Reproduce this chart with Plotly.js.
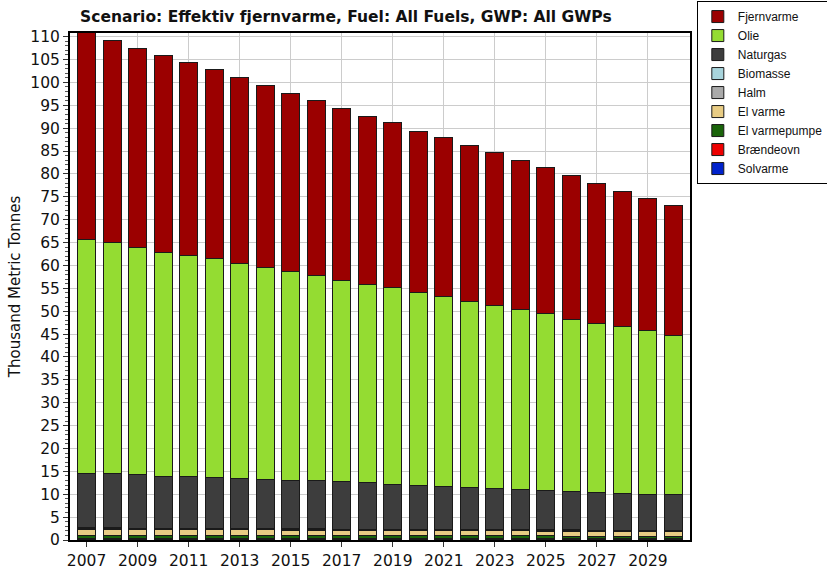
<!DOCTYPE html>
<html><head><meta charset="utf-8">
<script src="https://cdn.plot.ly/plotly-3.0.1.min.js"></script>
<style>html,body{margin:0;padding:0;background:#fff}#c{width:827px;height:569px}</style>
</head><body><div id="c"></div>
<script>
const years = [2007,2008,2009,2010,2011,2012,2013,2014,2015,2016,2017,2018,2019,2020,2021,2022,2023,2024,2025,2026,2027,2028,2029,2030];
// Values in thousand metric tonnes
const solvarme     = [0.2,0.2,0.2,0.2,0.2,0.2,0.2,0.2,0.2,0.2,0.2,0.2,0.2,0.2,0.2,0.2,0.2,0.2,0.2,0.2,0.2,0.2,0.2,0.2];
const braendeovn   = [0.05,0.05,0.05,0.05,0.05,0.05,0.05,0.05,0.05,0.05,0.05,0.05,0.05,0.05,0.05,0.05,0.05,0.05,0.05,0.05,0.05,0.05,0.05,0.05];
const elvarmepumpe = [0.8,0.8,0.8,0.78,0.78,0.76,0.75,0.74,0.73,0.72,0.71,0.7,0.69,0.68,0.67,0.66,0.65,0.64,0.63,0.62,0.61,0.6,0.6,0.6];
const halm         = [0.1,0.1,0.1,0.1,0.1,0.1,0.1,0.1,0.1,0.1,0.1,0.1,0.1,0.1,0.1,0.1,0.1,0.1,0.1,0.1,0.1,0.1,0.1,0.1];
const elvarme      = [1.35,1.34,1.32,1.3,1.28,1.26,1.24,1.22,1.2,1.19,1.18,1.16,1.15,1.14,1.12,1.11,1.1,1.09,1.08,1.07,1.06,1.05,1.04,1.03];
const biomasse     = [0.15,0.15,0.15,0.15,0.15,0.15,0.15,0.15,0.15,0.15,0.15,0.15,0.15,0.15,0.15,0.15,0.15,0.15,0.15,0.15,0.15,0.15,0.15,0.15];
const naturgas     = [11.9,11.8,11.6,11.4,11.4,11.2,11.0,10.8,10.6,10.5,10.3,10.1,9.8,9.6,9.3,9.1,9.1,8.9,8.6,8.4,8.2,8.0,7.8,7.8];
const olie         = [51.1,50.5,49.7,48.9,48.3,47.7,46.9,46.2,45.7,44.9,44.1,43.4,43.0,42.2,41.6,40.8,39.9,39.2,38.6,37.7,37.0,36.5,35.8,34.8];
const fjernvarme   = [45.3,44.3,43.6,43.0,42.0,41.3,40.6,39.8,38.9,38.2,37.5,36.8,36.0,35.2,34.8,34.1,33.4,32.7,31.9,31.3,30.5,29.6,28.9,28.3];

const seriesNames  = ['Solvarme','Brændeovn','El varmepumpe','El varme','Halm','Biomasse','Naturgas','Olie','Fjernvarme'];
const seriesData   = [solvarme,braendeovn,elvarmepumpe,elvarme,halm,biomasse,naturgas,olie,fjernvarme];
const seriesColors = ['#0022cc','#ee0000','#1a640a','#e8cc84','#aaaaaa','#a8d4dc','#3d3d3d','#94dc32','#9b0000'];

const traces = seriesNames.map((n,i)=>({
  type:'bar', name:n, x:years, y:seriesData[i],
  marker:{color:seriesColors[i], line:{color:'#1a1a1a', width:1}},
  width:0.7
}));

const layout = {
  width:827, height:569,
  paper_bgcolor:'#fff', plot_bgcolor:'#fff',
  barmode:'stack',
  margin:{l:70, r:137, t:33, b:29, autoexpand:false},
  font:{family:'DejaVu Sans, Verdana, sans-serif', color:'#111'},
  title:{text:'<b>Scenario: Effektiv fjernvarme, Fuel: All Fuels, GWP: All GWPs</b>',
         font:{size:15.5, color:'#111'}, x:0.445, xanchor:'center', xref:'paper', y:0.97, yanchor:'middle'},
  xaxis:{range:[2006.35,2030.65], tickmode:'linear', tick0:2007, dtick:2,
         ticks:'outside', ticklen:5, tickcolor:'#333', tickfont:{size:15.5},
         showgrid:true, gridcolor:'#cccccc', gridwidth:1,
         showline:true, linecolor:'#000', linewidth:2, mirror:true, zeroline:false},
  yaxis:{range:[0,110.8], tickmode:'linear', tick0:0, dtick:5,
         ticks:'outside', ticklen:5, tickcolor:'#333', tickfont:{size:15.5},
         minor:{dtick:1, ticks:'outside', ticklen:3, tickcolor:'#555', showgrid:false},
         showgrid:true, gridcolor:'#cccccc', gridwidth:1,
         showline:true, linecolor:'#000', linewidth:2, mirror:true, zeroline:false,
         title:{text:'Thousand Metric Tonnes', font:{size:15}, standoff:6}},
  legend:{x:1.011, xanchor:'left', y:1.063, yanchor:'top', traceorder:'reversed',
          bgcolor:'#fff', bordercolor:'#000', borderwidth:1,
          font:{size:12, family:'Liberation Sans, Arial, sans-serif'},
          tracegroupgap:0, itemwidth:30},
  bargap:0.3
};
Plotly.newPlot('c', traces, layout, {displayModeBar:false, staticPlot:true});
</script>
</body></html>
